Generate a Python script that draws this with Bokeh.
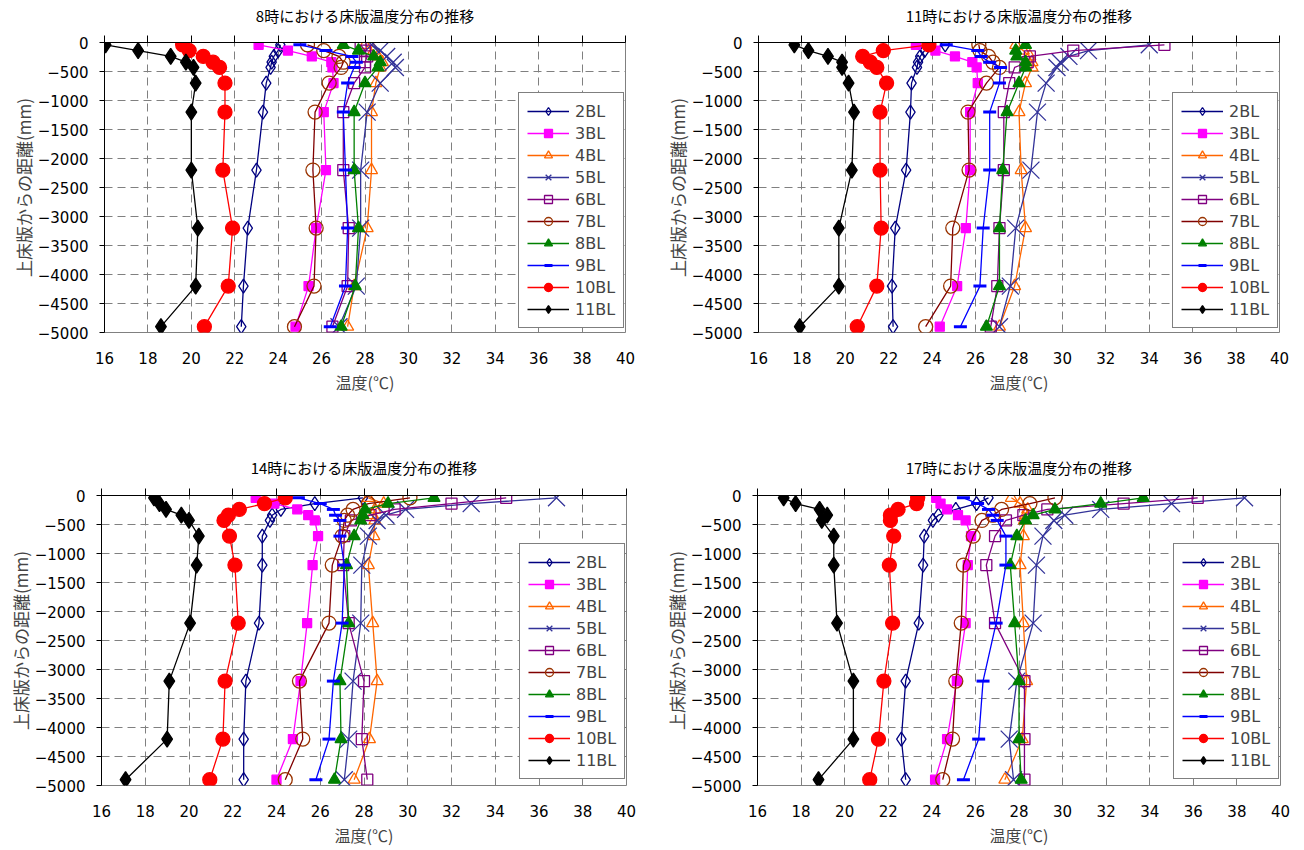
from bokeh.plotting import figure
from bokeh.models import Range1d, FixedTicker, LinearAxis, Legend, LegendItem
from bokeh.layouts import column, row
from bokeh.embed import file_html
from bokeh.resources import INLINE

# ---------------- data ----------------
DEPTH = [-40, -140, -240, -340, -430, -700, -1200, -2200, -3200, -4200, -4900]
SERIES = ["2BL", "3BL", "4BL", "5BL", "6BL", "7BL", "8BL", "9BL", "10BL", "11BL"]
X_TICKS = [16, 18, 20, 22, 24, 26, 28, 30, 32, 34, 36, 38, 40]
Y_TICKS = [0, -500, -1000, -1500, -2000, -2500, -3000, -3500, -4000, -4500, -5000]
Y_TICK_LABELS = ["0", "−500", "−1000", "−1500", "−2000", "−2500", "−3000",
                 "−3500", "−4000", "−4500", "−5000"]
TITLES = ["8時における床版温度分布の推移", "11時における床版温度分布の推移",
          "14時における床版温度分布の推移", "17時における床版温度分布の推移"]
X_LABEL = "温度(℃)"
Y_LABEL = "上床版からの距離(mm)"

H08 = {
    "2BL": [24.1, 24.0, 23.8, 23.7, 23.65, 23.45, 23.3, 23.0, 22.6, 22.4, 22.3],
    "3BL": [23.1, 24.45, 25.55, 26.45, 26.5, 26.55, 26.1, 26.2, 25.75, 25.4, 24.8],
    "4BL": [28.0, 28.4, 28.6, 28.8, 28.7, 28.5, 28.3, 28.3, 28.1, 27.5, 27.2],
    "5BL": [28.3, 28.7, 29.0, 29.3, 29.4, 28.7, 28.1, 27.8, 27.8, 27.6, 26.8],
    "6BL": [27.8, 28.0, 28.1, 28.0, 28.0, 27.5, 27.0, 27.0, 27.25, 27.2, 26.5],
    "7BL": [25.35, 26.1, 26.8, 27.0, 26.9, 26.35, 25.7, 25.6, 25.75, 25.65, 24.75],
    "8BL": [27.0, 27.7, 28.4, 28.7, 28.6, 28.0, 27.5, 27.5, 27.7, 27.55, 26.9],
    "9BL": [25.0, 26.2, 27.4, 27.6, 27.5, 27.2, 27.0, 27.1, 27.2, 27.1, 26.4],
    "10BL": [19.6, 19.9, 20.55, 21.0, 21.3, 21.55, 21.55, 21.45, 21.9, 21.7, 20.6],
    "11BL": [16.05, 17.55, 19.05, 19.75, 20.1, 20.2, 20.0, 20.0, 20.3, 20.2, 18.6],
}
H11 = {
    "2BL": [24.6, 23.65, 23.45, 23.35, 23.3, 23.05, 23.0, 22.8, 22.3, 22.15, 22.2],
    "3BL": [23.25, 24.15, 25.05, 25.85, 26.05, 26.1, 25.75, 25.75, 25.55, 25.15, 24.35],
    "4BL": [27.85, 28.2, 28.5, 28.6, 28.6, 28.3, 28.0, 28.1, 28.3, 27.8, 27.1],
    "5BL": [34.0, 31.2, 30.3, 29.9, 29.75, 29.25, 28.85, 28.55, 27.85, 27.6, 27.1],
    "6BL": [34.7, 30.5, 28.5, 28.4, 27.8, 27.55, 27.3, 27.3, 27.1, 27.0, 26.7],
    "7BL": [26.15, 26.2, 26.6, 26.8, 27.1, 26.5, 25.65, 25.7, 24.95, 24.85, 23.7],
    "8BL": [28.3, 27.85, 27.9, 28.3, 28.3, 28.0, 27.45, 27.25, 27.1, 27.1, 26.5],
    "9BL": [24.65, 26.1, 26.25, 26.65, 27.15, 27.1, 26.65, 26.65, 26.35, 26.2, 25.3],
    "10BL": [23.85, 21.75, 20.8, 21.15, 21.45, 21.9, 21.6, 21.6, 21.65, 21.45, 20.55],
    "11BL": [17.65, 18.3, 19.2, 19.85, 19.85, 20.15, 20.4, 20.3, 19.7, 19.7, 17.9],
}
H14 = {
    "2BL": [27.95, 25.75, 24.2, 23.8, 23.7, 23.35, 23.35, 23.2, 22.6, 22.5, 22.5],
    "3BL": [23.05, 23.9, 24.95, 25.45, 25.75, 25.9, 25.65, 25.4, 25.1, 24.75, 24.0],
    "4BL": [28.2, 28.9, 28.5, 28.4, 28.5, 28.45, 28.2, 28.4, 28.6, 28.25, 27.55],
    "5BL": [36.8, 32.9, 29.9, 29.0, 28.6, 28.2, 27.9, 27.85, 27.5, 27.3, 27.1],
    "6BL": [34.5, 32.0, 29.4, 28.3, 27.4, 27.1, 27.05, 27.3, 28.0, 27.9, 28.15],
    "7BL": [30.1, 28.2, 27.5, 27.25, 27.1, 27.0, 26.55, 26.4, 25.05, 25.2, 24.4],
    "8BL": [31.2, 29.1, 28.05, 27.95, 27.85, 27.55, 27.2, 27.3, 26.9, 26.95, 26.65],
    "9BL": [25.0, 26.0, 26.6, 26.7, 26.9, 26.9, 27.1, 27.0, 26.6, 26.4, 25.8],
    "10BL": [24.4, 23.45, 22.3, 21.8, 21.6, 21.85, 22.1, 22.25, 21.65, 21.55, 20.95],
    "11BL": [18.4, 18.65, 18.95, 19.65, 20.0, 20.45, 20.35, 20.05, 19.1, 19.0, 17.1],
}
H17 = {
    "2BL": [26.6, 26.05, 25.1, 24.3, 24.05, 23.65, 23.6, 23.4, 22.8, 22.6, 22.8],
    "3BL": [24.2, 24.4, 24.7, 25.2, 25.55, 25.8, 25.65, 25.55, 25.15, 24.7, 24.15],
    "4BL": [27.65, 28.05, 28.4, 28.3, 28.25, 28.2, 28.05, 28.2, 28.35, 28.15, 27.35],
    "5BL": [38.35, 35.0, 31.75, 30.1, 29.6, 29.1, 28.8, 28.65, 27.9, 27.55, 27.75],
    "6BL": [36.2, 32.8, 29.3, 28.2, 27.4, 26.9, 26.5, 26.9, 28.25, 28.25, 28.25],
    "7BL": [29.65, 28.5, 27.2, 26.8, 26.3, 25.9, 25.45, 25.35, 25.1, 24.95, 24.5],
    "8BL": [33.7, 31.75, 29.65, 28.65, 28.3, 27.9, 27.6, 27.8, 28.0, 28.0, 28.1],
    "9BL": [25.45, 26.1, 26.6, 26.8, 27.0, 27.4, 27.4, 26.95, 26.35, 26.15, 25.45],
    "10BL": [23.35, 23.3, 22.45, 22.1, 22.1, 22.25, 22.05, 22.2, 21.8, 21.55, 21.15],
    "11BL": [17.2, 17.75, 18.85, 19.2, 18.95, 19.5, 19.5, 19.65, 20.4, 20.4, 18.8],
}

# ---------------- styles ----------------
STYLE = {
    "2BL": dict(line="#000080", mk="diamond", mc="#000080", fill=None, size=14),
    "3BL": dict(line="#FF00FF", mk="square", mc="#FF00FF", fill="#FF00FF", size=9),
    "4BL": dict(line="#FF6600", mk="triangle", mc="#FF6600", fill=None, size=12),
    "5BL": dict(line="#333399", mk="x", mc="#333399", fill=None, size=24),
    "6BL": dict(line="#800080", mk="square", mc="#800080", fill=None, size=11),
    "7BL": dict(line="#800000", mk="circle", mc="#993300", fill=None, size=14),
    "8BL": dict(line="#008000", mk="triangle", mc="#008000", fill="#008000", size=12),
    "9BL": dict(line="#0000FF", mk="dash", mc="#0000FF", fill=None, size=13),
    "10BL": dict(line="#FF0000", mk="circle", mc="#FF0000", fill="#FF0000", size=14),
    "11BL": dict(line="#000000", mk="diamond", mc="#000000", fill="#000000", size=16),
}

NUM_FONT = "DejaVu Sans"
JP_FONT = "Noto Sans CJK JP"


def make_panel(title, data, border, frame_w, legend_loc, title_standoff):
    bl, br, bt, bb = border
    p = figure(frame_width=frame_w, frame_height=290,
               x_range=Range1d(16, 40), y_range=Range1d(-5000, 0),
               output_backend="svg", toolbar_location=None,
               min_border_left=bl, min_border_right=br,
               min_border_top=bt, min_border_bottom=bb,
               background_fill_color="white", border_fill_color="white",
               outline_line_color="#808080", outline_line_width=1)
    p.title.visible = False

    # bottom axis (labels only)
    xa = p.xaxis[0]
    xa.ticker = FixedTicker(ticks=X_TICKS)
    xa.axis_line_color = None
    xa.major_tick_line_color = None
    xa.minor_tick_line_color = None
    xa.major_label_text_font = NUM_FONT
    xa.major_label_text_font_size = "15px"
    xa.major_label_text_color = "black"
    xa.major_label_standoff = 13
    xa.axis_label = X_LABEL
    xa.axis_label_text_font = JP_FONT
    xa.axis_label_text_font_size = "16px"
    xa.axis_label_text_font_style = "normal"
    xa.axis_label_standoff = 3

    # top axis line at 0 with upward ticks; carries the chart title
    top = LinearAxis(ticker=FixedTicker(ticks=X_TICKS),
                     major_label_text_font_size="1px",
                     major_label_text_color=None,
                     major_label_standoff=0,
                     major_tick_out=7, major_tick_in=0,
                     minor_tick_line_color=None,
                     axis_line_color="black", axis_line_width=1,
                     major_tick_line_color="black",
                     axis_label=title,
                     axis_label_text_font=JP_FONT,
                     axis_label_text_font_size="15px",
                     axis_label_text_font_style="normal",
                     axis_label_text_color="black",
                     axis_label_standoff=title_standoff)
    p.add_layout(top, "above")

    ya = p.yaxis[0]
    ya.ticker = FixedTicker(ticks=Y_TICKS)
    ya.major_label_overrides = {t: lab for t, lab in zip(Y_TICKS, Y_TICK_LABELS)}
    ya.axis_line_color = "black"
    ya.major_tick_out = 5
    ya.major_tick_in = 0
    ya.minor_tick_line_color = None
    ya.major_label_text_font = NUM_FONT
    ya.major_label_text_font_size = "15px"
    ya.major_label_text_color = "black"
    ya.major_label_standoff = 11
    ya.axis_label = Y_LABEL
    ya.axis_label_text_font = JP_FONT
    ya.axis_label_text_font_size = "17px"
    ya.axis_label_text_font_style = "normal"
    ya.axis_label_standoff = -1

    for g in (p.xgrid[0], p.ygrid[0]):
        g.grid_line_color = "#808080"
        g.grid_line_dash = "8 5"
        g.grid_line_width = 1
    p.xgrid[0].ticker = FixedTicker(ticks=X_TICKS)
    p.ygrid[0].ticker = FixedTicker(ticks=Y_TICKS)

    items = []
    for s in SERIES:
        st = STYLE[s]
        ln = p.line(x=data[s], y=DEPTH, line_color=st["line"], line_width=1.3)
        kw = dict(marker=st["mk"], size=st["size"], line_color=st["mc"],
                  line_width=3 if st["mk"] == "dash" else 1.3)
        if st["fill"] is None:
            kw["fill_alpha"] = 0
        else:
            kw["fill_color"] = st["fill"]
        sc = p.scatter(x=data[s], y=DEPTH, **kw)
        items.append(LegendItem(label=s, renderers=[ln, sc]))

    leg = Legend(items=items, location=legend_loc,
                 border_line_color="black", border_line_width=1,
                 background_fill_color="white", background_fill_alpha=1,
                 label_text_font=NUM_FONT, label_text_font_size="16px",
                 glyph_width=42, glyph_height=20, label_height=20,
                 label_standoff=6, spacing=2, padding=8, margin=0)
    p.add_layout(leg, "center")
    return p


p1 = make_panel(TITLES[0], H08, (104, 31, 42, 116), 521, (414, 4), 10)
p2 = make_panel(TITLES[1], H11, (102, 17, 42, 116), 521, (414, 4), 10)
p3 = make_panel(TITLES[2], H14, (101, 30, 47, 50), 525, (418, 6), 11)
p4 = make_panel(TITLES[3], H17, (101, 17, 47, 50), 523, (416, 6), 11)

layout = column(row(p1, p2), row(p3, p4))
open("out.html", "w").write(file_html(layout, INLINE))
